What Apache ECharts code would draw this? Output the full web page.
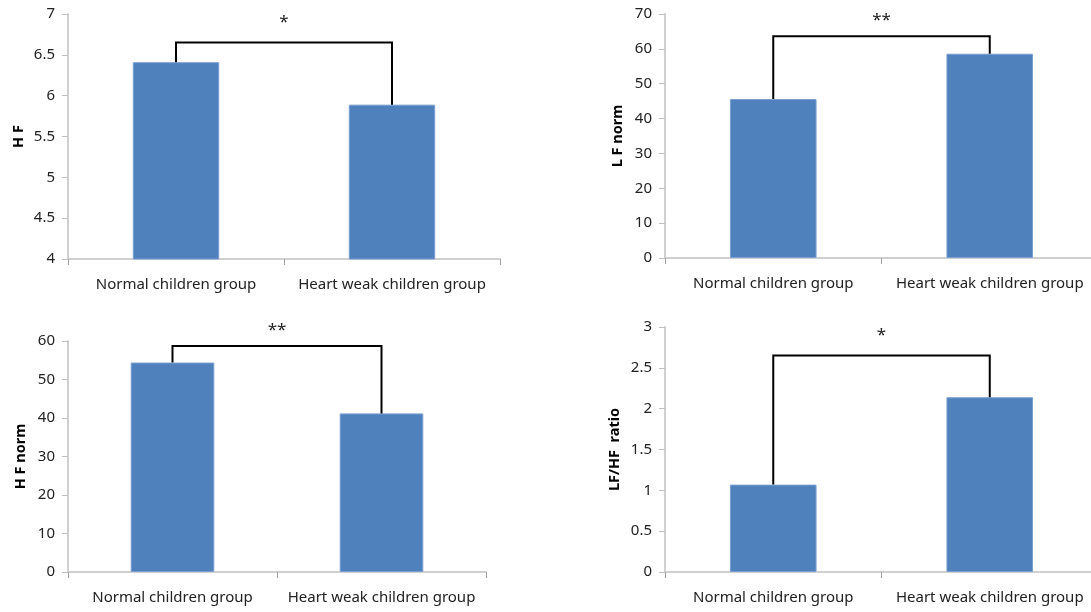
<!DOCTYPE html>
<html><head><meta charset="utf-8">
<script src="https://cdn.jsdelivr.net/npm/echarts@6/dist/echarts.min.js"></script>
<style>html,body{margin:0;padding:0;background:#fff}#c{width:1091px;height:612px}</style>
</head><body><div id="c"></div>
<script>
const categories = ['Normal children group', 'Heart weak children group'];
const hfValues = [6.41, 5.89];
const lfNormValues = [45.6, 58.6];
const hfNormValues = [54.4, 41.2];
const ratioValues = [1.07, 2.14];
const bracketLevels = [6.65, 63.6, 58.7, 2.65];
const sigMarks = ['*', '**', '**', '*'];
const yTitles = ['H F', 'L F norm', 'H F norm', 'LF/HF  ratio'];
const yMins = [4, 0, 0, 0];
const yMaxs = [7, 70, 60, 3];
const yIntervals = [0.5, 10, 10, 0.5];

const panels = [hfValues, lfNormValues, hfNormValues, ratioValues];
const grids = [
  {left: 68, top: 14, width: 432, height: 245, outerBoundsMode: 'none', containLabel: false},
  {left: 665, top: 14, width: 433, height: 244, outerBoundsMode: 'none', containLabel: false},
  {left: 68, top: 341, width: 418, height: 231, outerBoundsMode: 'none', containLabel: false},
  {left: 665, top: 327, width: 433, height: 245, outerBoundsMode: 'none', containLabel: false}
];
const titleGap = [42, 40, 40, 43];
const starOffset = [20, 16, 16, 20];
const FONT = '"Noto Sans", "Open Sans", sans-serif';

const option = {
  animation: false,
  backgroundColor: '#fff',
  grid: grids,
  xAxis: grids.map((g, i) => ({
    type: 'category', gridIndex: i, data: categories,
    axisLine: {lineStyle: {color: '#d0d0d0', width: 2}},
    axisTick: {show: true, length: 6, alignWithLabel: false, lineStyle: {color: '#a0a0a0', width: 1}},
    axisLabel: {color: '#222', fontSize: 15, fontFamily: FONT, margin: 18, interval: 0}
  })),
  yAxis: grids.map((g, i) => ({
    type: 'value', gridIndex: i, min: yMins[i], max: yMaxs[i], interval: yIntervals[i],
    name: yTitles[i], nameLocation: 'middle', nameGap: titleGap[i],
    nameTextStyle: {fontWeight: 'bold', fontSize: 14.5, color: '#000', fontFamily: FONT},
    axisLine: {show: true, lineStyle: {color: '#d0d0d0', width: 2}},
    axisTick: {show: true, length: 6, lineStyle: {color: '#c0c0c0'}},
    splitLine: {show: false},
    axisLabel: {color: '#222', fontSize: 15, fontFamily: FONT, margin: 13}
  })),
  series: []
};

panels.forEach((vals, i) => {
  option.series.push({
    type: 'bar', xAxisIndex: i, yAxisIndex: i, data: vals,
    barWidth: '40%',
    itemStyle: {color: '#4F81BD', borderColor: '#7a9fd0', borderWidth: 1}
  });
  option.series.push({
    type: 'custom', xAxisIndex: i, yAxisIndex: i,
    data: [[0, vals[0], 1, vals[1], bracketLevels[i]]],
    z: 5,
    renderItem: function (params, api) {
      const p0 = api.coord([api.value(0), api.value(1)]);
      const p0t = api.coord([api.value(0), api.value(4)]);
      const p1t = api.coord([api.value(2), api.value(4)]);
      const p1 = api.coord([api.value(2), api.value(3)]);
      const mx = (p0t[0] + p1t[0]) / 2;
      return {
        type: 'group',
        children: [
          {type: 'polyline', shape: {points: [p0, p0t, p1t, p1]},
           style: {stroke: '#000', lineWidth: 2, fill: null}},
          {type: 'text', x: mx, y: p0t[1] - starOffset[i],
           style: {text: sigMarks[i], fill: '#222', fontSize: 17, fontFamily: FONT,
                   textAlign: 'center', textVerticalAlign: 'middle'}}
        ]
      };
    }
  });
});

const chart = echarts.init(document.getElementById('c'), null, {renderer: 'canvas'});
chart.setOption(option);
</script></body></html>
